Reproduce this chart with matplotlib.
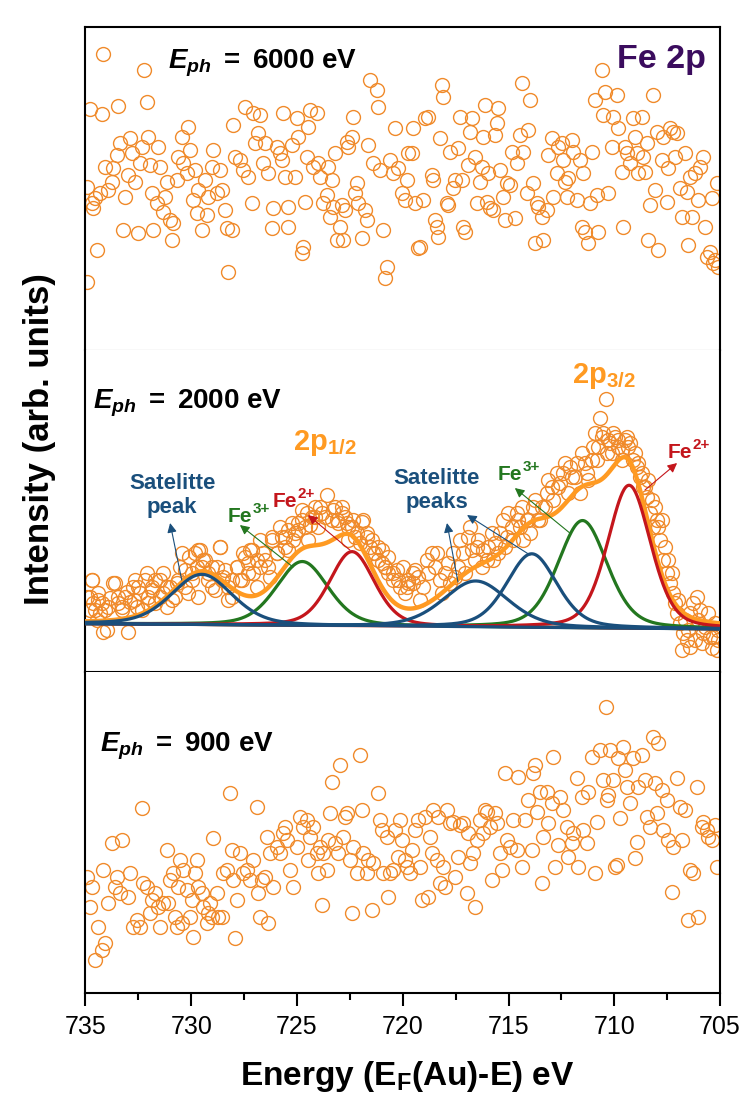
import numpy as np
import matplotlib
matplotlib.use("Agg")
import matplotlib.pyplot as plt
from matplotlib.ticker import MultipleLocator

plt.rcParams['font.family'] = ['Liberation Sans', 'DejaVu Sans']
plt.rcParams['mathtext.fontset'] = 'custom'
plt.rcParams['mathtext.rm'] = 'Liberation Sans'
plt.rcParams['mathtext.it'] = 'Liberation Sans:italic'
plt.rcParams['mathtext.bf'] = 'Liberation Sans:bold'
plt.rcParams['mathtext.bfit'] = 'Liberation Sans:italic:bold'

# ---------------- data: E_ph = 6000 eV ----------------
e_6000 = [734.94, 734.94, 734.79, 734.71, 734.63, 734.55, 734.47, 734.31, 734.24, 734.16,
          734.08, 733.92, 733.76, 733.68, 733.53, 733.45, 733.37, 733.21, 733.13, 732.97,
          732.90, 732.82, 732.66, 732.50, 732.42, 732.34, 732.22, 732.11, 732.03, 731.95,
          731.87, 731.79, 731.64, 731.56, 731.48, 731.32, 731.24, 731.16, 731.01, 730.93,
          730.85, 730.69, 730.61, 730.45, 730.37, 730.22, 730.14, 730.06, 729.90, 729.82,
          729.74, 729.67, 729.51, 729.35, 729.27, 729.19, 729.03, 728.96, 728.80, 728.64,
          728.56, 728.40, 728.33, 728.25, 728.09, 728.01, 727.93, 727.70, 727.54, 727.46,
          727.30, 727.14, 727.06, 726.99, 726.83, 726.75, 726.59, 726.51, 726.36, 726.20,
          726.12, 725.96, 725.80, 725.72, 725.65, 725.57, 725.41, 725.41, 725.25, 725.09,
          725.02, 724.94, 724.78, 724.70, 724.62, 724.54, 724.46, 724.39, 724.23, 724.07,
          723.99, 723.91, 723.76, 723.60, 723.52, 723.44, 723.36, 723.28, 723.20, 723.13,
          722.97, 722.89, 722.81, 722.73, 722.65, 722.57, 722.42, 722.34, 722.26, 722.18,
          722.10, 721.94, 721.79, 721.71, 721.63, 721.55, 721.39, 721.23, 721.15, 721.08,
          720.92, 720.84, 720.76, 720.60, 720.45, 720.37, 720.21, 720.05, 719.89, 719.82,
          719.74, 719.58, 719.50, 719.42, 719.26, 719.18, 719.03, 718.95, 718.79, 718.63,
          718.55, 718.48, 718.40, 718.32, 718.24, 718.16, 718.08, 717.92, 717.85, 717.77,
          717.61, 717.53, 717.37, 717.29, 717.21, 717.14, 717.06, 716.90, 716.82, 716.74,
          716.58, 716.51, 716.35, 716.27, 716.19, 716.11, 716.03, 715.95, 715.88, 715.72,
          715.64, 715.56, 715.48, 715.40, 715.24, 715.17, 715.09, 714.93, 714.85, 714.69,
          714.61, 714.46, 714.38, 714.30, 714.14, 714.06, 713.98, 713.83, 713.75, 713.67,
          713.59, 713.43, 713.35, 713.20, 713.12, 712.96, 712.88, 712.72, 712.64, 712.49,
          712.41, 712.33, 712.25, 712.17, 712.01, 711.93, 711.78, 711.62, 711.54, 711.46,
          711.38, 711.23, 711.15, 711.07, 710.91, 710.83, 710.75, 710.60, 710.52, 710.44,
          710.28, 710.12, 710.04, 709.89, 709.81, 709.65, 709.57, 709.49, 709.41, 709.26,
          709.10, 709.02, 708.94, 708.86, 708.70, 708.63, 708.55, 708.47, 708.39, 708.31,
          708.15, 708.07, 708.00, 707.92, 707.76, 707.68, 707.52, 707.44, 707.36, 707.21,
          707.13, 707.05, 706.89, 706.81, 706.66, 706.58, 706.50, 706.42, 706.34, 706.18,
          706.02, 705.95, 705.79, 705.71, 705.63, 705.47, 705.40, 705.32, 705.24, 705.16,
          705.08]
i_6000 = [49.0, 20.5, 72.2, 44.0, 42.5, 45.5, 30.0, 47.0, 70.8, 88.7,
          55.0, 48.0, 50.5, 54.5, 58.5, 73.2, 62.0, 36.0, 46.0, 52.5,
          63.5, 59.0, 50.5, 35.2, 56.0, 61.0, 84.0, 74.5, 64.0, 55.5,
          47.0, 36.0, 44.0, 61.0, 55.0, 41.5, 46.0, 50.5, 39.0, 33.0,
          38.0, 51.0, 58.0, 64.0, 56.0, 53.0, 67.0, 60.0, 45.0, 54.0,
          41.0, 48.0, 36.0, 51.0, 40.5, 46.0, 55.0, 60.0, 47.0, 54.0,
          48.0, 42.0, 36.5, 23.5, 36.0, 67.5, 58.0, 57.0, 54.0, 73.0,
          52.0, 44.0, 71.0, 62.0, 65.0, 70.5, 56.0, 62.0, 53.0, 36.5,
          42.5, 61.0, 59.0, 57.0, 71.0, 52.0, 43.0, 37.0, 61.5, 52.0,
          69.5, 64.0, 29.0, 31.0, 44.5, 58.0, 67.0, 72.0, 55.0, 71.0,
          56.0, 52.0, 44.0, 46.5, 55.0, 40.0, 51.0, 43.0, 59.0, 33.0,
          37.0, 43.5, 33.0, 42.0, 62.5, 61.0, 64.0, 70.0, 47.0, 50.0,
          44.0, 33.5, 42.0, 39.0, 61.5, 81.0, 56.0, 78.0, 73.0, 54.0,
          36.0, 21.5, 25.0, 57.0, 53.0, 66.5, 54.5, 47.0, 45.0, 51.0,
          59.0, 59.0, 66.5, 44.0, 30.5, 31.0, 45.0, 69.5, 70.0, 52.5,
          51.0, 39.0, 37.0, 34.0, 63.5, 79.5, 76.0, 44.0, 43.5, 59.5,
          48.5, 51.0, 60.5, 70.0, 51.0, 37.0, 35.5, 55.5, 65.5, 69.5,
          58.0, 44.0, 50.5, 55.0, 64.0, 73.5, 44.5, 53.0, 42.5, 42.0,
          64.5, 68.0, 72.5, 54.0, 46.0, 39.0, 50.0, 49.5, 59.5, 39.5,
          56.0, 64.5, 80.0, 59.5, 47.0, 66.0, 75.0, 50.0, 32.0, 44.0,
          43.0, 40.0, 33.0, 42.0, 58.5, 63.5, 46.0, 53.0, 61.0, 62.0,
          57.0, 50.5, 46.0, 51.5, 63.0, 59.5, 45.0, 57.0, 37.0, 53.0,
          35.5, 32.0, 44.0, 59.5, 75.0, 46.5, 35.5, 84.0, 70.5, 77.5,
          47.0, 61.0, 70.0, 76.5, 66.5, 53.5, 37.0, 61.0, 59.0, 56.0,
          69.5, 64.0, 59.0, 53.0, 70.0, 58.0, 53.5, 62.0, 33.0, 43.5,
          76.5, 48.0, 65.5, 30.0, 57.0, 64.0, 44.5, 54.5, 66.5, 65.5,
          58.0, 65.0, 48.5, 40.0, 59.0, 47.5, 31.5, 52.0, 40.0, 53.0,
          45.0, 55.0, 58.0, 37.0, 28.0, 29.5, 45.5, 26.0, 27.0, 50.0,
          25.0]

# ---------------- data: E_ph = 2000 eV ----------------
e_2000 = [734.94, 734.79, 734.71, 734.63, 734.47, 734.39, 734.31, 734.16, 734.08, 733.84,
          733.68, 733.45, 733.29, 733.13, 732.90, 732.74, 732.58, 732.42, 732.19, 732.03,
          731.87, 731.71, 731.48, 731.32, 731.16, 730.93, 730.69, 730.53, 730.30, 730.14,
          729.98, 729.82, 729.67, 729.51, 729.35, 729.19, 729.03, 728.80, 728.64, 728.48,
          728.25, 728.09, 727.85, 727.62, 727.46, 727.30, 727.14, 726.91, 726.75, 726.59,
          726.36, 726.20, 725.96, 725.80, 725.57, 725.41, 725.25, 725.09, 724.94, 724.78,
          724.54, 724.39, 724.15, 723.91, 723.60, 723.28, 723.13, 722.89, 722.73, 722.57,
          722.34, 722.18, 721.94, 721.71, 721.55, 721.39, 721.15, 721.00, 720.84, 720.68,
          720.45, 720.29, 720.13, 719.89, 719.74,
          719.50, 719.26, 719.03, 718.87, 718.63, 718.48, 718.24, 718.00, 717.77, 717.53,
          717.29, 717.14, 716.90, 716.74, 716.58, 716.43, 716.19, 716.03, 715.80, 715.64,
          715.48, 715.24, 715.09, 714.85, 714.61, 714.46, 714.30, 714.14, 713.98, 713.83,
          713.59, 713.43, 713.20, 712.96, 712.72, 712.57, 712.33, 712.09, 711.86, 711.62,
          711.38, 711.23, 710.99, 710.83, 710.67, 710.52, 710.39, 710.28, 710.12, 709.96,
          709.81, 709.65, 709.49, 709.33, 709.10, 708.94, 708.78, 708.63, 708.47, 708.31,
          708.15, 708.00, 707.84, 707.68, 707.52, 707.36, 707.21, 707.05, 706.89, 706.81,
          706.73, 706.58, 706.42, 706.42, 706.26, 706.10, 705.95, 705.87, 705.71, 705.47,
          705.40, 705.24, 705.16, 705.08,
          734.70, 734.78, 734.39, 734.23, 734.55, 733.92, 734.00, 733.60, 733.44, 733.29,
          733.05, 732.97, 732.73, 732.66, 732.50, 732.34, 732.10, 732.03, 731.87, 731.71,
          731.47, 731.32, 731.16, 731.00, 730.77, 730.61, 730.45, 730.29, 730.13, 729.98,
          729.74, 729.58, 729.66, 729.43, 729.19, 729.03, 728.87, 728.64, 728.56, 728.40,
          728.24, 728.09, 727.85, 727.69, 727.53, 727.30, 727.22, 727.06, 726.90, 726.75,
          726.51, 726.27, 726.19, 725.96, 725.72, 725.56, 725.41, 725.17, 724.93, 724.78,
          724.62, 724.46, 724.30, 724.15, 723.99, 723.83, 723.67, 723.36, 723.20, 723.04,
          722.89, 722.65, 722.57, 722.41, 722.25, 722.02, 721.86, 721.70, 721.47, 721.31,
          721.15, 720.99, 720.84, 720.68, 720.44, 720.21, 719.97, 719.73, 719.50,
          719.81, 719.42, 719.18, 718.79, 718.40, 718.16, 717.85, 717.61, 717.37, 717.06,
          716.82, 716.51, 716.27, 715.95, 715.72, 715.40, 715.17, 715.01, 714.77, 714.54,
          714.38, 714.06, 713.75, 713.51, 713.27, 713.12, 712.88, 712.64, 712.41, 712.17,
          712.01, 711.78, 711.54, 711.30, 711.07, 710.91, 710.75, 710.60, 710.36, 710.20,
          710.04, 709.81, 709.65, 709.41, 709.26, 709.02, 708.86, 708.70, 708.55, 708.39,
          708.23, 708.07, 707.92, 707.76, 707.60, 707.44, 707.29, 707.13, 706.97, 706.66,
          706.50, 706.18, 706.02, 705.79, 705.55, 705.32, 705.08]
i_2000 = [22.6, 18.6, 27.6, 20.6, 15.6, 21.6, 17.6, 12.1, 18.6, 22.1,
          26.6, 20.6, 18.6, 22.6, 21.1, 25.6, 19.6, 23.6, 27.6, 20.6,
          24.6, 27.6, 22.6, 29.6, 25.6, 21.6, 26.6, 31.6, 25.6, 23.6,
          29.6, 35.6, 36.6, 31.6, 33.6, 29.6, 25.6, 31.6, 37.6, 28.6,
          25.6, 22.6, 31.6, 27.6, 34.6, 29.6, 36.6, 33.6, 39.6, 35.6,
          31.6, 40.6, 35.6, 43.6, 40.6, 36.6, 44.6, 41.6, 42.6, 45.6,
          47.6, 44.1, 46.6, 49.6, 53.1, 48.6, 45.6, 49.6, 46.6, 43.6,
          45.6, 41.6, 45.1, 40.6, 37.6, 35.6, 33.6, 36.6, 31.6, 29.6,
          27.6, 30.6, 25.6, 23.6, 27.6,
          26.6, 28.6, 25.6, 33.6, 35.6, 31.6, 27.6, 29.6, 26.6, 28.6,
          39.6, 35.6, 40.6, 36.6, 33.6, 39.6, 36.6, 33.6, 41.6, 38.6,
          35.6, 45.6, 40.6, 43.6, 47.6, 43.6, 39.6, 45.6, 41.6, 49.6,
          45.6, 49.6, 53.6, 55.6, 59.6, 56.6, 62.6, 61.6, 58.6, 53.6,
          62.6, 57.6, 67.6, 63.6, 76.1, 71.6, 81.8, 69.6, 65.6, 70.6,
          67.6, 63.6, 69.6, 67.6, 63.6, 61.6, 58.6, 55.6, 52.6, 47.6,
          43.6, 45.6, 39.6, 33.6, 29.6, 26.6, 23.6, 17.6, 14.6, 6.6,
          11.6, 9.6, 17.6, 7.6, 20.6, 22.6, 18.6, 8.6, 13.6, 10.6,
          7.1, 14.6, 6.6, 12.6,
          27.6, 22.6, 23.6, 20.6, 18.6, 19.6, 12.6, 26.6, 22.6, 19.6,
          24.1, 12.1, 21.6, 27.6, 25.6, 18.6, 29.6, 22.6, 25.6, 20.6,
          27.6, 23.6, 19.6, 25.6, 22.6, 27.6, 35.6, 30.6, 34.6, 27.6,
          31.6, 36.6, 22.6, 33.6, 27.6, 31.6, 24.6, 37.6, 27.6, 30.6,
          21.6, 27.6, 31.6, 27.6, 35.6, 32.6, 36.6, 29.6, 25.6, 31.6,
          33.6, 28.6, 39.6, 35.6, 40.6, 37.6, 42.6, 39.6, 44.6, 48.6,
          43.6, 39.6, 46.6, 49.6, 43.6, 47.6, 46.6, 45.6, 49.6, 44.6,
          47.6, 44.6, 39.6, 43.6, 40.6, 38.6, 45.6, 41.6, 39.6, 35.6,
          37.6, 32.6, 31.6, 34.6, 29.6, 27.6, 31.6, 26.6, 29.6,
          25.6, 30.6, 21.6, 29.6, 35.6, 23.6, 32.6, 35.6, 31.6, 29.6,
          43.6, 37.6, 31.6, 37.6, 33.6, 41.6, 37.6, 47.6, 39.6, 45.6,
          49.6, 45.6, 51.6, 45.6, 49.6, 57.6, 51.6, 55.6, 59.6, 53.6,
          58.6, 62.6, 65.6, 59.6, 63.6, 71.6, 67.6, 70.6, 65.6, 68.6,
          71.6, 69.6, 66.6, 70.6, 68.6, 65.6, 62.6, 59.6, 55.6, 57.6,
          51.6, 49.6, 43.6, 45.6, 37.6, 33.6, 29.6, 20.6, 21.6, 15.6,
          12.6, 9.6, 15.6, 11.6, 17.6, 10.6, 9.6]

# fitted components (pseudo-Voigt) for the 2000 eV spectrum
peak_center = [729.5, 724.75, 722.4, 716.55, 713.9, 711.5, 709.3]
peak_height = [15.1, 19.2, 22.3, 13.8, 22.1, 32.2, 42.9]
peak_fwhm = [3.4, 2.9, 2.5, 3.6, 2.8, 2.75, 2.4]
peak_kind = ['sat', 'fe3', 'fe2', 'sat', 'sat', 'fe3', 'fe2']
peak_eta = 0.3
bg_energy = [735.0, 705.0]
bg_level = [14.5, 12.9]

# ---------------- data: E_ph = 900 eV ----------------
e_900 = [734.94, 734.79, 734.71, 734.55, 734.39, 734.24, 734.16, 734.08, 733.92, 733.76,
         733.61, 733.53, 733.37, 733.29, 732.97, 732.90, 732.74, 732.58, 732.42, 732.34,
         732.27, 732.11, 731.95, 731.87, 731.71, 731.56, 731.48, 731.32, 731.16, 731.08,
         731.01, 730.85, 730.77, 730.69, 730.61, 730.53, 730.45, 730.37, 730.22, 730.06,
         729.98, 729.90, 729.82, 729.74, 729.67, 729.51, 729.43, 729.27, 729.19, 729.11,
         729.03, 728.96, 728.80, 728.72, 728.56, 728.48, 728.33, 728.17, 728.09, 728.01,
         727.93, 727.85, 727.70, 727.54, 727.38, 727.22, 727.06, 726.91, 726.83, 726.75,
         726.67, 726.51, 726.43, 726.36, 726.28, 726.12, 725.96, 725.80, 725.65, 725.57,
         725.49, 725.33, 725.17, 725.02, 724.86, 724.70, 724.54, 724.46, 724.39, 724.23,
         724.07, 723.99, 723.91, 723.83, 723.76, 723.60, 723.52, 723.44, 723.36, 723.20,
         723.05, 722.97, 722.81, 722.73, 722.65, 722.49, 722.42, 722.34, 722.18, 722.02,
         721.94, 721.86, 721.71, 721.63, 721.47, 721.39, 721.15, 721.08, 721.00, 720.92,
         720.76, 720.68, 720.60, 720.45, 720.37, 720.21, 720.13, 720.05, 719.89, 719.82,
         719.66, 719.58, 719.42, 719.26, 719.18, 719.11, 718.95, 718.79, 718.71, 718.63,
         718.55, 718.40, 718.32, 718.24, 718.08, 718.00, 717.92, 717.77, 717.61, 717.53,
         717.37, 717.29, 717.14, 716.98, 716.90, 716.82, 716.66, 716.58, 716.51, 716.35,
         716.19, 716.11, 716.03, 715.88, 715.80, 715.64, 715.56, 715.40, 715.32, 715.17,
         715.09, 714.93, 714.77, 714.61, 714.54, 714.38, 714.22, 714.06, 713.91, 713.83,
         713.75, 713.67, 713.51, 713.43, 713.35, 713.20, 713.12, 712.96, 712.88, 712.80,
         712.64, 712.57, 712.41, 712.25, 712.17, 712.01, 711.93, 711.78, 711.70, 711.54,
         711.46, 711.30, 711.23, 711.07, 710.91, 710.83, 710.67, 710.52, 710.40, 710.36,
         710.28, 710.20, 710.04, 709.96, 709.89, 709.81, 709.73, 709.57, 709.49, 709.41,
         709.26, 709.10, 709.02, 708.94, 708.86, 708.70, 708.55, 708.47, 708.31, 708.15,
         708.07, 708.00, 707.92, 707.76, 707.68, 707.52, 707.44, 707.29, 707.21, 707.05,
         706.89, 706.81, 706.66, 706.50, 706.42, 706.26, 706.10, 706.02, 705.87, 705.79,
         705.63, 705.55, 705.40, 705.24, 705.16]
i_900 = [34.9, 25.9, 31.9, 9.9, 19.9, 12.9, 36.9, 14.9, 26.9, 44.9,
         31.9, 34.9, 29.9, 45.9, 28.9, 35.9, 19.9, 21.9, 19.9, 55.4,
         32.9, 31.9, 23.9, 27.9, 29.9, 25.9, 19.9, 26.9, 42.9, 26.9,
         33.9, 35.9, 22.9, 19.9, 31.9, 39.9, 20.9, 36.9, 30.9, 22.9,
         27.9, 16.9, 35.9, 39.9, 31.9, 29.9, 25.9, 20.9, 23.9, 26.9,
         22.9, 46.4, 29.9, 22.9, 22.9, 35.9, 36.9, 59.9, 42.9, 33.9,
         16.4, 27.9, 41.9, 35.9, 36.9, 33.9, 39.9, 55.9, 29.9, 22.9,
         33.9, 34.9, 46.9, 20.9, 41.9, 31.9, 43.9, 41.9, 47.9, 49.9,
         45.9, 36.9, 31.9, 43.9, 52.9, 49.9, 51.9, 39.9, 46.9, 49.9,
         41.9, 35.9, 43.9, 26.4, 41.9, 36.9, 45.9, 53.9, 63.4, 44.9,
         41.9, 68.4, 46.9, 52.9, 53.9, 39.9, 23.9, 43.9, 35.9, 71.4,
         54.9, 41.9, 35.9, 39.9, 24.9, 38.9, 59.9, 51.9, 48.9, 35.9,
         46.9, 28.9, 35.9, 36.9, 48.9, 40.9, 51.9, 45.9, 39.9, 37.9,
         35.9, 42.9, 48.9, 51.9, 37.9, 27.9, 52.9, 28.9, 46.9, 41.9,
         54.9, 39.9, 52.9, 32.9, 37.9, 31.9, 54.9, 50.9, 51.4, 34.9,
         40.9, 50.4, 50.9, 29.9, 47.9, 38.9, 41.9, 25.9, 45.9, 51.9,
         47.9, 54.9, 54.4, 49.9, 33.9, 53.9, 50.9, 41.9, 36.9, 65.9,
         45.9, 43.9, 51.9, 42.9, 64.9, 37.9, 51.9, 57.9, 42.9, 65.9,
         68.4, 54.4, 60.4, 32.9, 46.9, 60.4, 50.9, 56.9, 70.9, 37.9,
         44.4, 58.9, 54.9, 49.9, 40.9, 44.9, 47.9, 64.4, 37.9, 58.9,
         48.9, 44.9, 60.4, 70.9, 35.9, 51.4, 72.9, 63.9, 85.9, 57.9,
         59.4, 72.9, 63.9, 37.9, 38.4, 70.4, 52.4, 73.9, 66.9, 61.9,
         56.9, 70.4, 40.4, 45.4, 61.9, 71.4, 63.9, 52.9, 49.9, 76.9,
         62.9, 53.9, 74.9, 60.9, 48.9, 57.9, 45.9, 30.4, 43.9, 64.4,
         55.9, 45.9, 54.9, 21.9, 36.9, 35.9, 61.9, 22.9, 49.9, 51.4,
         48.9, 46.9, 45.9, 50.4, 37.9]

# ---------------- styling ----------------
c_data = '#f08a2a'
c_env = '#ff9a22'
c_sat = '#1a4f7c'
c_fe3 = '#23771f'
c_fe2 = '#c4161c'
c_title = '#3b0c5e'
kind_color = {'sat': c_sat, 'fe3': c_fe3, 'fe2': c_fe2}

fig = plt.figure(figsize=(7.48, 10.97), dpi=100)
L, W = 0.1143, 0.8483
ax_top = fig.add_axes([L, 0.6809, W, 0.2944])
ax_mid = fig.add_axes([L, 0.3874, W, 0.2935])
ax_bot = fig.add_axes([L, 0.0948, W, 0.2926])

mk = dict(ls='none', marker='o', ms=10, mfc='none', mec=c_data, mew=1.0)

ax_top.plot(e_6000, i_6000, **mk)
ax_mid.plot(e_2000, i_2000, **mk)
ax_bot.plot(e_900, i_900, **mk)

# fitted curves
grid = np.linspace(735.5, 704.5, 800)
bg = np.interp(grid, bg_energy[::-1], bg_level[::-1])
def pvoigt(x, c, h, w, eta):
    d = (x - c) / w
    return h * (eta / (1 + 4 * d * d) + (1 - eta) * np.exp(-4 * np.log(2) * d * d))
comps = [pvoigt(grid, c, h, w, peak_eta) for c, h, w in zip(peak_center, peak_height, peak_fwhm)]
env = bg + np.sum(comps, axis=0)
ax_mid.plot(grid, env, color=c_env, lw=3.2, zorder=3)
order = [i for i, k in enumerate(peak_kind) if k == 'fe3'] + \
        [i for i, k in enumerate(peak_kind) if k == 'fe2'] + \
        [i for i, k in enumerate(peak_kind) if k == 'sat']
for i in order:
    ax_mid.plot(grid, bg + comps[i], color=kind_color[peak_kind[i]], lw=2.3, zorder=4)

ax_top.set_ylim(0, 96.9)
ax_mid.set_ylim(0, 96.6)
ax_bot.set_ylim(0, 96.3)
for ax in (ax_top, ax_mid, ax_bot):
    ax.set_xlim(735, 705)
    ax.set_yticks([])
    for s in ax.spines.values():
        s.set_linewidth(1.5)
        s.set_color('black')
for ax in (ax_top, ax_mid):
    ax.tick_params(axis='x', which='both', bottom=False, top=False, labelbottom=False)
ax_top.spines['bottom'].set_color('#8a8a8a')
ax_top.spines['bottom'].set_linewidth(0.8)
ax_mid.spines['top'].set_visible(False)
ax_bot.spines['top'].set_visible(False)

ax_bot.xaxis.set_major_locator(MultipleLocator(5))
ax_bot.xaxis.set_minor_locator(MultipleLocator(2.5))
ax_bot.tick_params(axis='x', which='major', direction='out', length=9, width=1.5,
                   labelsize=18, pad=7)
ax_bot.tick_params(axis='x', which='minor', direction='out', length=5, width=1.5)

# panel texts
tk = dict(fontsize=20, color='black', va='baseline')
ax_top.text(0.130, 0.873, r'$\mathbfit{E}_{\mathbfit{ph}}$' + r'$\mathbf{\ =\ 6000\ eV}$',
            transform=ax_top.transAxes, ha='left', **tk)
ax_top.text(0.978, 0.873, 'Fe 2p', transform=ax_top.transAxes, ha='right', va='baseline',
            fontsize=24.5, fontweight='bold', color=c_title)
ax_mid.text(0.012, 0.820, r'$\mathbfit{E}_{\mathbfit{ph}}$' + r'$\mathbf{\ =\ 2000\ eV}$',
            transform=ax_mid.transAxes, ha='left', **tk)
ax_bot.text(0.023, 0.751, r'$\mathbfit{E}_{\mathbfit{ph}}$' + r'$\mathbf{\ =\ 900\ eV}$',
            transform=ax_bot.transAxes, ha='left', **tk)

# middle-panel labels
ax_mid.text(725.19, 66.6, r'$\mathbf{2p}_{\mathbf{1/2}}$', color=c_env, fontsize=21,
            ha='left', va='baseline')
ax_mid.text(712.0, 86.7, r'$\mathbf{2p}_{\mathbf{3/2}}$', color=c_env, fontsize=21,
            ha='left', va='baseline')
lab = dict(fontsize=16, fontweight='bold', ha='center', va='center', linespacing=1.2)
ax_mid.text(730.9, 53.0, 'Satelitte\npeak', color=c_sat, **lab)
ax_mid.text(718.38, 54.5, 'Satelitte\npeaks', color=c_sat, **lab)

def fe_label(E, I, charge, color):
    ax_mid.text(E, I, 'Fe', color=color, fontsize=15, fontweight='bold',
                ha='left', va='baseline')
    ax_mid.annotate(charge, xy=(E, I), xytext=(17.6, 6.5), textcoords='offset points',
                    color=color, fontsize=11, fontweight='bold', ha='left', va='baseline')
fe_label(728.26, 45.0, '3+', c_fe3)
fe_label(726.13, 49.5, '2+', c_fe2)
fe_label(715.5, 57.6, '3+', c_fe3)
fe_label(707.46, 64.2, '2+', c_fe2)

def arrow(tail, head, color):
    ax_mid.annotate('', xy=head, xytext=tail,
                    arrowprops=dict(arrowstyle='-|>', color=color, lw=0.8,
                                    mutation_scale=14, shrinkA=0, shrinkB=0), zorder=6)
arrow((730.45, 27.6), (731.0, 44.7), c_sat)
arrow((725.19, 31.5), (727.70, 44.1), c_fe3)
arrow((722.5, 36.6), (724.48, 47.1), c_fe2)
arrow((717.39, 27.0), (717.91, 44.7), c_sat)
arrow((713.98, 35.1), (716.96, 47.1), c_sat)
arrow((712.1, 41.7), (714.7, 55.2), c_fe3)
arrow((708.55, 54.6), (707.03, 62.7), c_fe2)

fig.text(0.053, 0.60, 'Intensity (arb. units)', rotation=90, fontsize=25,
         fontweight='bold', ha='center', va='center')
fig.text(0.545, 0.011, r'Energy (E$_{\mathbf{F}}$(Au)-E) eV', fontsize=24,
         fontweight='bold', ha='center', va='baseline')

fig.savefig('out.png', dpi=100)
